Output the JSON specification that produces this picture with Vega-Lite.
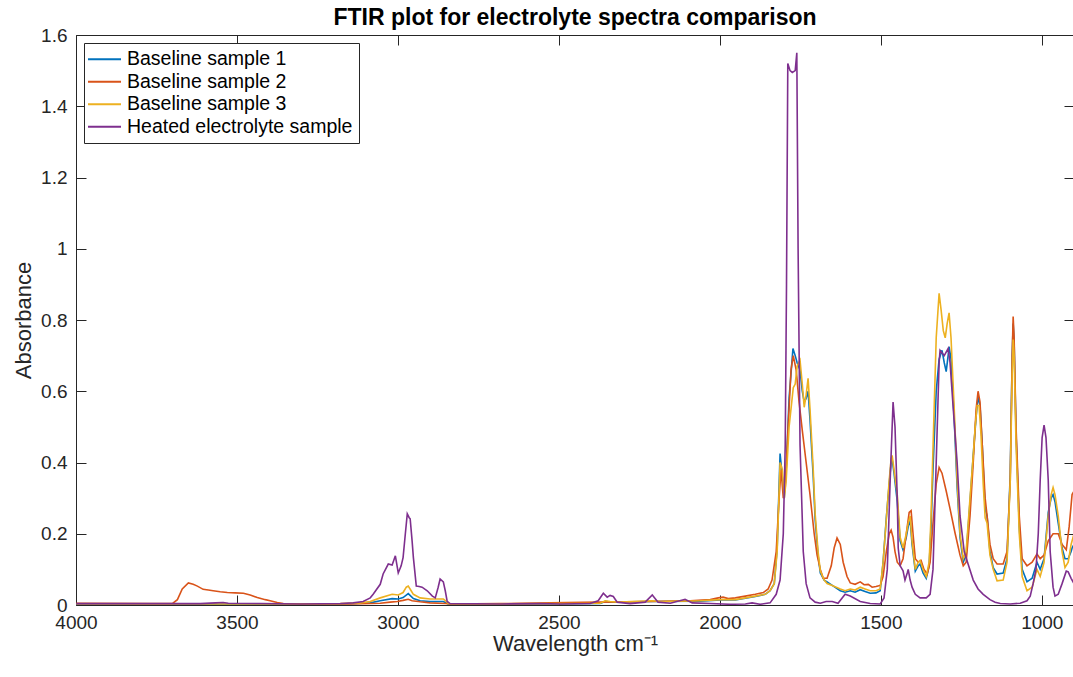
{
  "$schema": "https://vega.github.io/schema/vega-lite/v6.json",
  "width": 998,
  "height": 570,
  "autosize": {"type": "none"},
  "padding": {"left": 76, "top": 35, "right": 0, "bottom": 72},
  "background": "white",
  "title": {
    "text": "FTIR plot for electrolyte spectra comparison",
    "font": "Liberation Sans",
    "fontSize": 23,
    "fontWeight": "bold",
    "color": "#000000",
    "anchor": "middle",
    "offset": -4
  },
  "config": {
    "view": {"stroke": null},
    "font": "Liberation Sans",
    "axis": {
      "grid": false,
      "domainColor": "#262626",
      "domainWidth": 1,
      "tickColor": "#262626",
      "tickWidth": 1,
      "tickSize": -10,
      "labelColor": "#262626",
      "titleColor": "#262626",
      "labelFont": "Liberation Sans",
      "labelFontSize": 19,
      "labelFlush": false,
      "titleFont": "Liberation Sans",
      "titleFontSize": 22,
      "titleFontWeight": "normal"
    },
    "legend": {
      "orient": "top-left",
      "offset": 8,
      "symbolType": "M-3,0H3",
      "symbolStrokeWidth": 2,
      "symbolSize": 121,
      "symbolOffset": 4.25,
      "labelFont": "Liberation Sans",
      "labelFontSize": 19.5,
      "labelColor": "#000000",
      "labelLimit": 400,
      "labelOffset": 12.75,
      "rowPadding": 1.5,
      "strokeColor": "#262626",
      "fillColor": "white",
      "padding": 6.5
    }
  },
  "datasets": {
    "b1": [
      {"wn":3999,"a":0.002},{"wn":3769,"a":0.002},{"wn":3303,"a":0.002},{"wn":3179,"a":0.003},{"wn":3086,"a":0.006},{"wn":3055,"a":0.012},{"wn":3018,"a":0.018},{"wn":2999,"a":0.017},{"wn":2984,"a":0.021},{"wn":2968,"a":0.032},{"wn":2952,"a":0.018},{"wn":2931,"a":0.012},{"wn":2900,"a":0.01},{"wn":2859,"a":0.01},{"wn":2844,"a":0.003},{"wn":2682,"a":0.002},{"wn":2527,"a":0.003},{"wn":2372,"a":0.004},{"wn":2356,"a":0.01},{"wn":2341,"a":0.008},{"wn":2210,"a":0.01},{"wn":2061,"a":0.011},{"wn":1999,"a":0.014},{"wn":1952,"a":0.014},{"wn":1921,"a":0.019},{"wn":1890,"a":0.024},{"wn":1859,"a":0.03},{"wn":1844,"a":0.04},{"wn":1831,"a":0.06},{"wn":1822,"a":0.16},{"wn":1813,"a":0.425},{"wn":1806,"a":0.36},{"wn":1800,"a":0.3},{"wn":1794,"a":0.38},{"wn":1785,"a":0.58},{"wn":1773,"a":0.72},{"wn":1766,"a":0.70},{"wn":1760,"a":0.68},{"wn":1751,"a":0.66},{"wn":1744,"a":0.6},{"wn":1738,"a":0.57},{"wn":1732,"a":0.58},{"wn":1726,"a":0.6},{"wn":1720,"a":0.52},{"wn":1710,"a":0.36},{"wn":1704,"a":0.24},{"wn":1695,"a":0.14},{"wn":1688,"a":0.09},{"wn":1676,"a":0.07},{"wn":1667,"a":0.065},{"wn":1651,"a":0.055},{"wn":1626,"a":0.04},{"wn":1611,"a":0.036},{"wn":1595,"a":0.04},{"wn":1580,"a":0.036},{"wn":1564,"a":0.043},{"wn":1549,"a":0.038},{"wn":1533,"a":0.033},{"wn":1515,"a":0.034},{"wn":1502,"a":0.04},{"wn":1493,"a":0.12},{"wn":1483,"a":0.245},{"wn":1474,"a":0.34},{"wn":1468,"a":0.40},{"wn":1465,"a":0.41},{"wn":1459,"a":0.37},{"wn":1449,"a":0.29},{"wn":1440,"a":0.18},{"wn":1431,"a":0.155},{"wn":1421,"a":0.19},{"wn":1415,"a":0.22},{"wn":1409,"a":0.24},{"wn":1403,"a":0.17},{"wn":1393,"a":0.095},{"wn":1384,"a":0.11},{"wn":1378,"a":0.115},{"wn":1369,"a":0.09},{"wn":1359,"a":0.075},{"wn":1350,"a":0.11},{"wn":1344,"a":0.22},{"wn":1338,"a":0.38},{"wn":1328,"a":0.6},{"wn":1319,"a":0.69},{"wn":1310,"a":0.715},{"wn":1303,"a":0.68},{"wn":1297,"a":0.655},{"wn":1291,"a":0.70},{"wn":1288,"a":0.725},{"wn":1282,"a":0.69},{"wn":1272,"a":0.52},{"wn":1263,"a":0.33},{"wn":1254,"a":0.19},{"wn":1244,"a":0.12},{"wn":1235,"a":0.14},{"wn":1223,"a":0.29},{"wn":1213,"a":0.42},{"wn":1204,"a":0.53},{"wn":1198,"a":0.585},{"wn":1192,"a":0.56},{"wn":1185,"a":0.45},{"wn":1176,"a":0.27},{"wn":1170,"a":0.25},{"wn":1161,"a":0.15},{"wn":1151,"a":0.105},{"wn":1139,"a":0.087},{"wn":1120,"a":0.09},{"wn":1108,"a":0.13},{"wn":1098,"a":0.37},{"wn":1092,"a":0.7},{"wn":1089,"a":0.79},{"wn":1086,"a":0.74},{"wn":1080,"a":0.48},{"wn":1070,"a":0.22},{"wn":1061,"a":0.1},{"wn":1046,"a":0.065},{"wn":1030,"a":0.075},{"wn":1015,"a":0.12},{"wn":1005,"a":0.1},{"wn":993,"a":0.13},{"wn":980,"a":0.26},{"wn":971,"a":0.3},{"wn":965,"a":0.31},{"wn":959,"a":0.29},{"wn":949,"a":0.23},{"wn":937,"a":0.16},{"wn":928,"a":0.13},{"wn":918,"a":0.13},{"wn":909,"a":0.15},{"wn":906,"a":0.16},{"wn":900,"a":0.17}
    ],
    "b2": [
      {"wn":3999,"a":0.005},{"wn":3769,"a":0.004},{"wn":3701,"a":0.004},{"wn":3685,"a":0.015},{"wn":3670,"a":0.045},{"wn":3651,"a":0.062},{"wn":3636,"a":0.058},{"wn":3623,"a":0.053},{"wn":3605,"a":0.044},{"wn":3589,"a":0.042},{"wn":3574,"a":0.04},{"wn":3552,"a":0.037},{"wn":3530,"a":0.035},{"wn":3505,"a":0.034},{"wn":3480,"a":0.033},{"wn":3459,"a":0.028},{"wn":3437,"a":0.021},{"wn":3412,"a":0.015},{"wn":3397,"a":0.012},{"wn":3375,"a":0.007},{"wn":3356,"a":0.004},{"wn":3303,"a":0.003},{"wn":3148,"a":0.003},{"wn":3055,"a":0.005},{"wn":3024,"a":0.008},{"wn":3002,"a":0.01},{"wn":2984,"a":0.013},{"wn":2968,"a":0.016},{"wn":2956,"a":0.012},{"wn":2931,"a":0.009},{"wn":2900,"a":0.006},{"wn":2853,"a":0.004},{"wn":2838,"a":0.003},{"wn":2682,"a":0.004},{"wn":2527,"a":0.006},{"wn":2372,"a":0.008},{"wn":2216,"a":0.01},{"wn":2092,"a":0.012},{"wn":2030,"a":0.015},{"wn":2005,"a":0.02},{"wn":1990,"a":0.022},{"wn":1974,"a":0.018},{"wn":1952,"a":0.02},{"wn":1921,"a":0.025},{"wn":1890,"a":0.03},{"wn":1865,"a":0.035},{"wn":1850,"a":0.045},{"wn":1838,"a":0.07},{"wn":1825,"a":0.15},{"wn":1816,"a":0.3},{"wn":1810,"a":0.38},{"wn":1803,"a":0.3},{"wn":1797,"a":0.33},{"wn":1788,"a":0.5},{"wn":1779,"a":0.66},{"wn":1772,"a":0.70},{"wn":1763,"a":0.66},{"wn":1754,"a":0.57},{"wn":1744,"a":0.49},{"wn":1732,"a":0.4},{"wn":1720,"a":0.31},{"wn":1707,"a":0.2},{"wn":1698,"a":0.14},{"wn":1688,"a":0.1},{"wn":1679,"a":0.075},{"wn":1667,"a":0.075},{"wn":1654,"a":0.11},{"wn":1645,"a":0.16},{"wn":1636,"a":0.188},{"wn":1626,"a":0.17},{"wn":1617,"a":0.12},{"wn":1605,"a":0.08},{"wn":1595,"a":0.062},{"wn":1580,"a":0.058},{"wn":1564,"a":0.065},{"wn":1552,"a":0.057},{"wn":1539,"a":0.058},{"wn":1527,"a":0.05},{"wn":1515,"a":0.052},{"wn":1502,"a":0.055},{"wn":1493,"a":0.08},{"wn":1483,"a":0.15},{"wn":1474,"a":0.2},{"wn":1468,"a":0.21},{"wn":1462,"a":0.19},{"wn":1456,"a":0.15},{"wn":1449,"a":0.12},{"wn":1440,"a":0.11},{"wn":1431,"a":0.13},{"wn":1421,"a":0.2},{"wn":1412,"a":0.26},{"wn":1406,"a":0.265},{"wn":1400,"a":0.2},{"wn":1393,"a":0.13},{"wn":1384,"a":0.12},{"wn":1375,"a":0.125},{"wn":1366,"a":0.1},{"wn":1356,"a":0.087},{"wn":1347,"a":0.12},{"wn":1338,"a":0.23},{"wn":1328,"a":0.34},{"wn":1319,"a":0.386},{"wn":1310,"a":0.37},{"wn":1297,"a":0.32},{"wn":1285,"a":0.27},{"wn":1269,"a":0.2},{"wn":1254,"a":0.14},{"wn":1244,"a":0.11},{"wn":1235,"a":0.12},{"wn":1223,"a":0.25},{"wn":1213,"a":0.4},{"wn":1204,"a":0.55},{"wn":1198,"a":0.60},{"wn":1192,"a":0.57},{"wn":1185,"a":0.45},{"wn":1176,"a":0.3},{"wn":1170,"a":0.25},{"wn":1161,"a":0.17},{"wn":1151,"a":0.13},{"wn":1139,"a":0.115},{"wn":1120,"a":0.115},{"wn":1108,"a":0.15},{"wn":1098,"a":0.35},{"wn":1092,"a":0.7},{"wn":1089,"a":0.81},{"wn":1086,"a":0.75},{"wn":1080,"a":0.5},{"wn":1070,"a":0.25},{"wn":1061,"a":0.13},{"wn":1046,"a":0.11},{"wn":1030,"a":0.12},{"wn":1015,"a":0.143},{"wn":1005,"a":0.13},{"wn":993,"a":0.14},{"wn":980,"a":0.18},{"wn":965,"a":0.2},{"wn":949,"a":0.2},{"wn":937,"a":0.17},{"wn":924,"a":0.155},{"wn":915,"a":0.22},{"wn":906,"a":0.31},{"wn":900,"a":0.32}
    ],
    "b3": [
      {"wn":3999,"a":0.003},{"wn":3769,"a":0.003},{"wn":3303,"a":0.003},{"wn":3179,"a":0.004},{"wn":3117,"a":0.006},{"wn":3086,"a":0.01},{"wn":3055,"a":0.02},{"wn":3018,"a":0.03},{"wn":2999,"a":0.028},{"wn":2984,"a":0.035},{"wn":2974,"a":0.05},{"wn":2968,"a":0.053},{"wn":2959,"a":0.04},{"wn":2952,"a":0.03},{"wn":2931,"a":0.02},{"wn":2900,"a":0.017},{"wn":2859,"a":0.017},{"wn":2850,"a":0.01},{"wn":2844,"a":0.004},{"wn":2682,"a":0.003},{"wn":2527,"a":0.004},{"wn":2372,"a":0.005},{"wn":2356,"a":0.012},{"wn":2341,"a":0.01},{"wn":2310,"a":0.008},{"wn":2210,"a":0.012},{"wn":2185,"a":0.01},{"wn":2061,"a":0.012},{"wn":1999,"a":0.015},{"wn":1952,"a":0.015},{"wn":1921,"a":0.02},{"wn":1890,"a":0.025},{"wn":1859,"a":0.03},{"wn":1844,"a":0.04},{"wn":1831,"a":0.06},{"wn":1822,"a":0.15},{"wn":1813,"a":0.4},{"wn":1806,"a":0.38},{"wn":1800,"a":0.3},{"wn":1794,"a":0.35},{"wn":1785,"a":0.5},{"wn":1772,"a":0.61},{"wn":1766,"a":0.62},{"wn":1760,"a":0.67},{"wn":1751,"a":0.687},{"wn":1744,"a":0.62},{"wn":1738,"a":0.555},{"wn":1732,"a":0.59},{"wn":1726,"a":0.636},{"wn":1720,"a":0.55},{"wn":1710,"a":0.38},{"wn":1704,"a":0.256},{"wn":1695,"a":0.15},{"wn":1688,"a":0.096},{"wn":1676,"a":0.07},{"wn":1667,"a":0.06},{"wn":1651,"a":0.055},{"wn":1626,"a":0.045},{"wn":1611,"a":0.04},{"wn":1595,"a":0.045},{"wn":1580,"a":0.042},{"wn":1564,"a":0.05},{"wn":1549,"a":0.045},{"wn":1533,"a":0.04},{"wn":1515,"a":0.04},{"wn":1502,"a":0.045},{"wn":1493,"a":0.12},{"wn":1483,"a":0.24},{"wn":1474,"a":0.35},{"wn":1468,"a":0.41},{"wn":1465,"a":0.42},{"wn":1459,"a":0.38},{"wn":1449,"a":0.31},{"wn":1440,"a":0.19},{"wn":1431,"a":0.16},{"wn":1421,"a":0.2},{"wn":1415,"a":0.23},{"wn":1409,"a":0.25},{"wn":1403,"a":0.18},{"wn":1393,"a":0.1},{"wn":1384,"a":0.12},{"wn":1378,"a":0.125},{"wn":1369,"a":0.1},{"wn":1359,"a":0.08},{"wn":1350,"a":0.12},{"wn":1344,"a":0.25},{"wn":1338,"a":0.44},{"wn":1328,"a":0.75},{"wn":1319,"a":0.875},{"wn":1313,"a":0.83},{"wn":1306,"a":0.77},{"wn":1300,"a":0.75},{"wn":1294,"a":0.79},{"wn":1288,"a":0.82},{"wn":1282,"a":0.75},{"wn":1272,"a":0.55},{"wn":1263,"a":0.35},{"wn":1254,"a":0.2},{"wn":1244,"a":0.13},{"wn":1235,"a":0.15},{"wn":1223,"a":0.3},{"wn":1213,"a":0.42},{"wn":1207,"a":0.5},{"wn":1201,"a":0.56},{"wn":1195,"a":0.56},{"wn":1189,"a":0.48},{"wn":1182,"a":0.34},{"wn":1176,"a":0.245},{"wn":1170,"a":0.23},{"wn":1161,"a":0.14},{"wn":1151,"a":0.1},{"wn":1139,"a":0.068},{"wn":1120,"a":0.07},{"wn":1108,"a":0.12},{"wn":1098,"a":0.35},{"wn":1092,"a":0.65},{"wn":1089,"a":0.745},{"wn":1086,"a":0.7},{"wn":1080,"a":0.45},{"wn":1070,"a":0.2},{"wn":1061,"a":0.08},{"wn":1046,"a":0.04},{"wn":1030,"a":0.05},{"wn":1015,"a":0.1},{"wn":1005,"a":0.08},{"wn":993,"a":0.12},{"wn":980,"a":0.25},{"wn":971,"a":0.31},{"wn":965,"a":0.33},{"wn":959,"a":0.31},{"wn":949,"a":0.25},{"wn":937,"a":0.15},{"wn":928,"a":0.105},{"wn":918,"a":0.12},{"wn":909,"a":0.17},{"wn":900,"a":0.2}
    ],
    "h": [
      {"wn":3999,"a":0.004},{"wn":3769,"a":0.004},{"wn":3614,"a":0.004},{"wn":3567,"a":0.006},{"wn":3543,"a":0.007},{"wn":3527,"a":0.005},{"wn":3428,"a":0.004},{"wn":3303,"a":0.003},{"wn":3179,"a":0.004},{"wn":3139,"a":0.006},{"wn":3108,"a":0.01},{"wn":3086,"a":0.02},{"wn":3077,"a":0.03},{"wn":3055,"a":0.058},{"wn":3046,"a":0.087},{"wn":3030,"a":0.115},{"wn":3018,"a":0.112},{"wn":3008,"a":0.138},{"wn":2999,"a":0.09},{"wn":2990,"a":0.11},{"wn":2984,"a":0.133},{"wn":2977,"a":0.2},{"wn":2971,"a":0.256},{"wn":2965,"a":0.245},{"wn":2962,"a":0.242},{"wn":2956,"a":0.18},{"wn":2952,"a":0.133},{"wn":2943,"a":0.053},{"wn":2934,"a":0.052},{"wn":2925,"a":0.05},{"wn":2909,"a":0.04},{"wn":2893,"a":0.025},{"wn":2884,"a":0.02},{"wn":2875,"a":0.05},{"wn":2869,"a":0.073},{"wn":2859,"a":0.065},{"wn":2853,"a":0.04},{"wn":2847,"a":0.01},{"wn":2838,"a":0.004},{"wn":2682,"a":0.003},{"wn":2558,"a":0.004},{"wn":2496,"a":0.003},{"wn":2403,"a":0.004},{"wn":2378,"a":0.012},{"wn":2362,"a":0.033},{"wn":2350,"a":0.022},{"wn":2341,"a":0.027},{"wn":2331,"a":0.024},{"wn":2319,"a":0.008},{"wn":2279,"a":0.004},{"wn":2232,"a":0.008},{"wn":2210,"a":0.028},{"wn":2192,"a":0.008},{"wn":2154,"a":0.005},{"wn":2108,"a":0.016},{"wn":2086,"a":0.006},{"wn":2030,"a":0.004},{"wn":1968,"a":0.002},{"wn":1921,"a":0.003},{"wn":1900,"a":0.006},{"wn":1875,"a":0.002},{"wn":1844,"a":0.006},{"wn":1825,"a":0.03},{"wn":1813,"a":0.07},{"wn":1803,"a":0.2},{"wn":1797,"a":0.45},{"wn":1793,"a":0.9},{"wn":1789,"a":1.52},{"wn":1782,"a":1.50},{"wn":1775,"a":1.495},{"wn":1766,"a":1.50},{"wn":1761,"a":1.55},{"wn":1757,"a":1.0},{"wn":1751,"a":0.45},{"wn":1741,"a":0.15},{"wn":1732,"a":0.06},{"wn":1720,"a":0.02},{"wn":1704,"a":0.008},{"wn":1688,"a":0.005},{"wn":1670,"a":0.01},{"wn":1651,"a":0.01},{"wn":1633,"a":0.005},{"wn":1611,"a":0.03},{"wn":1595,"a":0.025},{"wn":1564,"a":0.01},{"wn":1533,"a":0.004},{"wn":1502,"a":0.003},{"wn":1490,"a":0.02},{"wn":1480,"a":0.1},{"wn":1471,"a":0.35},{"wn":1462,"a":0.57},{"wn":1456,"a":0.5},{"wn":1449,"a":0.3},{"wn":1446,"a":0.16},{"wn":1440,"a":0.11},{"wn":1431,"a":0.096},{"wn":1425,"a":0.07},{"wn":1418,"a":0.09},{"wn":1415,"a":0.1},{"wn":1409,"a":0.07},{"wn":1403,"a":0.05},{"wn":1393,"a":0.03},{"wn":1378,"a":0.02},{"wn":1359,"a":0.02},{"wn":1347,"a":0.03},{"wn":1338,"a":0.1},{"wn":1328,"a":0.4},{"wn":1319,"a":0.68},{"wn":1316,"a":0.715},{"wn":1303,"a":0.70},{"wn":1291,"a":0.72},{"wn":1285,"a":0.68},{"wn":1275,"a":0.55},{"wn":1263,"a":0.4},{"wn":1254,"a":0.25},{"wn":1241,"a":0.15},{"wn":1229,"a":0.115},{"wn":1213,"a":0.07},{"wn":1198,"a":0.045},{"wn":1182,"a":0.03},{"wn":1161,"a":0.015},{"wn":1145,"a":0.008},{"wn":1129,"a":0.004},{"wn":1098,"a":0.003},{"wn":1067,"a":0.005},{"wn":1046,"a":0.012},{"wn":1036,"a":0.025},{"wn":1027,"a":0.06},{"wn":1018,"a":0.1},{"wn":1011,"a":0.2},{"wn":1005,"a":0.35},{"wn":999,"a":0.47},{"wn":993,"a":0.505},{"wn":987,"a":0.47},{"wn":980,"a":0.35},{"wn":974,"a":0.15},{"wn":965,"a":0.05},{"wn":959,"a":0.025},{"wn":949,"a":0.03},{"wn":937,"a":0.06},{"wn":924,"a":0.095},{"wn":918,"a":0.093},{"wn":909,"a":0.075},{"wn":900,"a":0.06}
    ]
  },
  "layer": [
    {
      "data": {"name": "b1"},
      "mark": {"type": "line", "strokeWidth": 1.6, "clip": true},
      "encoding": {
        "x": {
          "field": "wn", "type": "quantitative",
          "scale": {"domain": [900, 4000], "reverse": true, "nice": false, "zero": false},
          "axis": {"orient": "bottom", "values": [1000, 1500, 2000, 2500, 3000, 3500, 4000], "format": "d", "labelPadding": 18, "title": "Wavelength cm⁻¹", "titlePadding": 1}
        },
        "y": {
          "field": "a", "type": "quantitative",
          "scale": {"domain": [0, 1.6], "nice": false, "zero": true},
          "axis": {"orient": "left", "values": [0, 0.2, 0.4, 0.6, 0.8, 1, 1.2, 1.4, 1.6], "format": "~g", "labelPadding": 19, "title": "Absorbance", "titlePadding": 5}
        },
        "color": {
          "datum": "Baseline sample 1", "type": "nominal",
          "scale": {
            "domain": ["Baseline sample 1", "Baseline sample 2", "Baseline sample 3", "Heated electrolyte sample"],
            "range": ["#0072BD", "#D95319", "#EDB120", "#7E2F8E"]
          },
          "legend": {"title": null}
        }
      }
    },
    {
      "data": {"name": "b2"},
      "mark": {"type": "line", "strokeWidth": 1.6, "clip": true},
      "encoding": {
        "x": {
          "field": "wn", "type": "quantitative",
          "axis": {"orient": "top", "values": [1000, 1500, 2000, 2500, 3000, 3500, 4000], "labels": false, "title": null}
        },
        "y": {
          "field": "a", "type": "quantitative",
          "axis": {"orient": "right", "values": [0, 0.2, 0.4, 0.6, 0.8, 1, 1.2, 1.4, 1.6], "labels": false, "title": null}
        },
        "color": {"datum": "Baseline sample 2", "type": "nominal"}
      }
    },
    {
      "data": {"name": "b3"},
      "mark": {"type": "line", "strokeWidth": 1.6, "clip": true},
      "encoding": {
        "x": {"field": "wn", "type": "quantitative", "axis": null},
        "y": {"field": "a", "type": "quantitative", "axis": null},
        "color": {"datum": "Baseline sample 3", "type": "nominal"}
      }
    },
    {
      "data": {"name": "h"},
      "mark": {"type": "line", "strokeWidth": 1.6, "clip": true},
      "encoding": {
        "x": {"field": "wn", "type": "quantitative", "axis": null},
        "y": {"field": "a", "type": "quantitative", "axis": null},
        "color": {"datum": "Heated electrolyte sample", "type": "nominal"}
      }
    }
  ],
  "resolve": {"axis": {"x": "independent", "y": "independent"}}
}
